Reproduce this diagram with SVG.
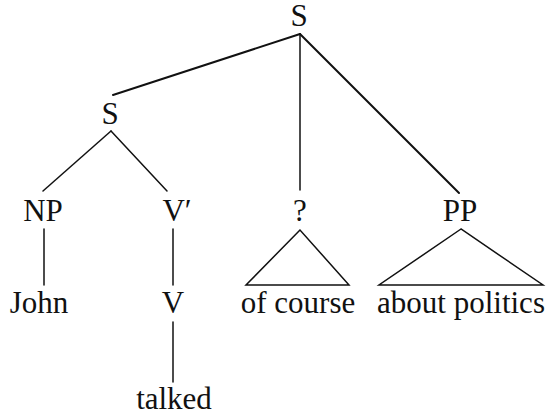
<svg xmlns="http://www.w3.org/2000/svg" width="551" height="416" viewBox="0 0 551 416">
<style>
text{font-family:"Liberation Serif","Times New Roman",serif;font-size:31px;fill:#111;text-anchor:middle}
.l{stroke:#111;stroke-width:2;fill:none;stroke-linecap:round;stroke-linejoin:miter}
.t{stroke-width:1.5}
</style>
<rect width="551" height="416" fill="#fff"/>
<g id="connectors">
<line class="l" x1="300" y1="34" x2="113" y2="95"/>
<line class="l t" x1="300" y1="34" x2="300" y2="190"/>
<line class="l" x1="300" y1="34" x2="459" y2="193"/>
<line class="l t" x1="111" y1="131" x2="43" y2="191"/>
<line class="l t" x1="111" y1="131" x2="167" y2="191"/>
<line class="l t" x1="44" y1="229" x2="44" y2="285"/>
<line class="l t" x1="173" y1="229" x2="173" y2="285"/>
<line class="l t" x1="173" y1="322" x2="173" y2="382"/>
<polygon class="l t" points="300,230 246,285 349,285"/>
<polygon class="l t" points="461,229 379,285 543,285"/>
</g>
<g id="S-top"><text x="299" y="26">S</text></g>
<g id="S-left"><text x="110" y="124">S</text></g>
<g id="NP"><text x="43" y="221">NP</text></g>
<g id="Vbar"><text x="177" y="221">V′</text></g>
<g id="Q"><text x="300" y="221">?</text></g>
<g id="PP"><text x="460" y="221">PP</text></g>
<g id="John"><text x="39" y="313">John</text></g>
<g id="V"><text x="173" y="313">V</text></g>
<g id="ofcourse"><text x="298" y="313">of course</text></g>
<g id="aboutpolitics"><text x="461" y="313">about politics</text></g>
<g id="talked"><text x="174" y="409">talked</text></g>
</svg>
